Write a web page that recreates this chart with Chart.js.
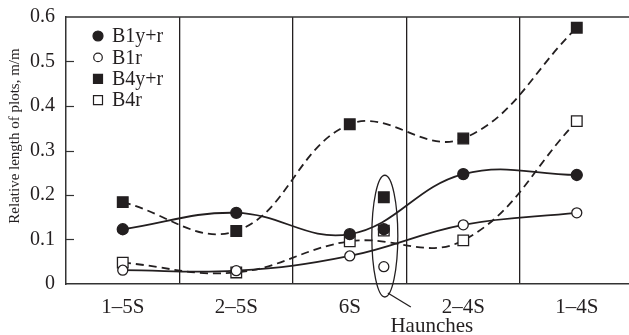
<!DOCTYPE html>
<html><head><meta charset="utf-8">
<script src="https://cdn.jsdelivr.net/npm/chart.js@4/dist/chart.umd.min.js"></script>
<style>html,body{margin:0;padding:0;background:#fff;overflow:hidden}#wrap{width:629px;height:335px;position:relative}</style>
</head><body><div id="wrap"><canvas id="c" width="629" height="335"></canvas></div>
<script>
// ---- data ----
const categories = ['1–5S', '2–5S', '6S', '2–4S', '1–4S'];
const seriesNames = ['B1y+r', 'B1r', 'B4y+r', 'B4r'];
const b1yr = [0.123, 0.160, 0.112, 0.247, 0.245];
const b1r  = [0.031, 0.030, 0.063, 0.133, 0.160];
const b4yr = [0.184, 0.119, 0.359, 0.327, 0.576];
const b4r  = [0.048, 0.026, 0.096, 0.098, 0.366];
// haunch measurements (between 6S and 2–4S), order as seriesNames
const haunchPosition = 2.3;
const haunchValues = [0.123, 0.039, 0.195, 0.120];
const haunchLabel = 'Haunches';
const yTickValues = [0, 0.1, 0.2, 0.3, 0.4, 0.5, 0.6];
const yTitle = 'Relative length of plots, m/m';

// ---- styling ----
const INK = '#231f20';
const FONT = '"Liberation Serif", "Times New Roman", serif';
const styles = [
  {pointStyle: 'circle', radius: 5.5, fill: INK, dash: []},
  {pointStyle: 'circle', radius: 5, fill: '#ffffff', dash: []},
  {pointStyle: 'rect', radius: 7.5, fill: INK, dash: [8, 5]},
  {pointStyle: 'rect', radius: 7.5, fill: '#ffffff', dash: [8, 5]}
];
const seriesData = [b1yr, b1r, b4yr, b4r];

const datasets = [];
seriesData.forEach((arr, i) => {
  const s = styles[i];
  datasets.push({
    label: seriesNames[i],
    data: arr.map((v, k) => ({x: k, y: v})),
    borderColor: INK, borderWidth: 1.8, borderDash: s.dash,
    tension: 0.4, fill: false,
    pointStyle: s.pointStyle, pointRadius: s.radius,
    pointBackgroundColor: s.fill, pointBorderColor: INK, pointBorderWidth: 1.3
  });
});
seriesData.forEach((arr, i) => {
  const s = styles[i];
  datasets.push({
    label: seriesNames[i] + ' haunch',
    data: [{x: haunchPosition, y: haunchValues[i]}],
    showLine: false,
    pointStyle: s.pointStyle, pointRadius: s.radius,
    pointBackgroundColor: s.fill, pointBorderColor: INK, pointBorderWidth: 1.3
  });
});

const xMin = -0.5, xMax = 4.46;

const decor = {
  id: 'decor',
  afterDraw(chart) {
    const {ctx, chartArea: a, scales: {x, y}} = chart;
    ctx.save();
    ctx.strokeStyle = '#333';
    ctx.lineWidth = 1.5;
    // top border
    ctx.beginPath(); ctx.moveTo(a.left, a.top); ctx.lineTo(a.right, a.top); ctx.stroke();
    // inward y ticks
    ctx.lineWidth = 1.2;
    yTickValues.forEach(v => {
      if (v <= 0 || v >= 0.6) return;
      const py = Math.round(y.getPixelForValue(v)) + 0.5;
      ctx.beginPath(); ctx.moveTo(a.left, py); ctx.lineTo(a.left + 8, py); ctx.stroke();
    });
    // legend
    ctx.fillStyle = INK; ctx.font = '20px ' + FONT; ctx.textBaseline = 'middle'; ctx.textAlign = 'left';
    seriesNames.forEach((n, i) => {
      const cy = 36 + i * 21.4, cx = 98;
      const s = styles[i];
      ctx.lineWidth = 1.2; ctx.strokeStyle = INK;
      ctx.beginPath();
      if (s.pointStyle === 'circle') {
        ctx.arc(cx, cy, s.fill === INK ? 5 : 4.3, 0, Math.PI * 2);
      } else {
        ctx.rect(cx - 4.5, cy - 4.5, 9, 9);
      }
      ctx.fillStyle = s.fill; ctx.fill(); ctx.stroke();
      ctx.fillStyle = INK;
      ctx.fillText(n, 112, cy + 1);
    });
    // haunch ellipse, leader and label
    const cx = x.getPixelForValue(haunchPosition) + 1;
    const top = y.getPixelForValue(Math.max(...haunchValues)) - 22;
    const bottom = y.getPixelForValue(0) + 13;
    const cy = (top + bottom) / 2, ry = (bottom - top) / 2;
    ctx.strokeStyle = INK; ctx.lineWidth = 1.3;
    ctx.beginPath(); ctx.ellipse(cx, cy, 13, ry, 0, 0, Math.PI * 2); ctx.stroke();
    ctx.beginPath(); ctx.moveTo(cx + 3, bottom - 4); ctx.lineTo(cx + 26, bottom + 10); ctx.stroke();
    ctx.font = '21px ' + FONT; ctx.textAlign = 'center'; ctx.textBaseline = 'middle';
    ctx.fillText(haunchLabel, cx + 47, a.bottom + 42);
    // y title
    ctx.save();
    ctx.translate(15, 136); ctx.rotate(-Math.PI / 2);
    ctx.font = '15px ' + FONT; ctx.textAlign = 'center'; ctx.textBaseline = 'middle';
    ctx.fillText(yTitle, 0, 0);
    ctx.restore();
    ctx.restore();
  }
};

new Chart(document.getElementById('c'), {
  type: 'line',
  data: {datasets},
  options: {
    responsive: false, animation: false, devicePixelRatio: 1,
    layout: {autoPadding: false, padding: {top: 17, right: 0, left: 0, bottom: 0}},
    plugins: {legend: {display: false}, tooltip: {enabled: false}},
    scales: {
      x: {
        type: 'linear', min: xMin, max: xMax,
        afterBuildTicks: s => {
          const t = [];
          for (let v = -0.5; v <= xMax + 1e-9; v += 0.5) t.push({value: Math.round(v * 10) / 10});
          s.ticks = t;
        },
        afterFit: s => { s.height = 51; s.paddingRight = 0; s.paddingLeft = 0; },
        ticks: {
          autoSkip: false, maxRotation: 0, padding: 11, color: INK,
          font: {family: FONT, size: 21},
          callback: v => Number.isInteger(v) ? categories[v] : ''
        },
        grid: {
          drawTicks: false, lineWidth: 1.3,
          color: c => (c.tick && c.tick.value % 1 !== 0 && c.tick.value > -0.5) ? INK : 'rgba(0,0,0,0)'
        },
        border: {display: true, color: '#333', width: 1.5}
      },
      y: {
        min: 0, max: 0.6,
        afterBuildTicks: s => { s.ticks = yTickValues.map(v => ({value: v})); },
        afterFit: s => { s.width = 66; },
        ticks: {
          padding: 3, color: INK, font: {family: FONT, size: 20},
          callback: v => v === 0 ? '0' : v.toFixed(1)
        },
        grid: {display: false},
        border: {display: true, color: '#333', width: 1.5}
      }
    }
  },
  plugins: [decor]
});
</script></body></html>
